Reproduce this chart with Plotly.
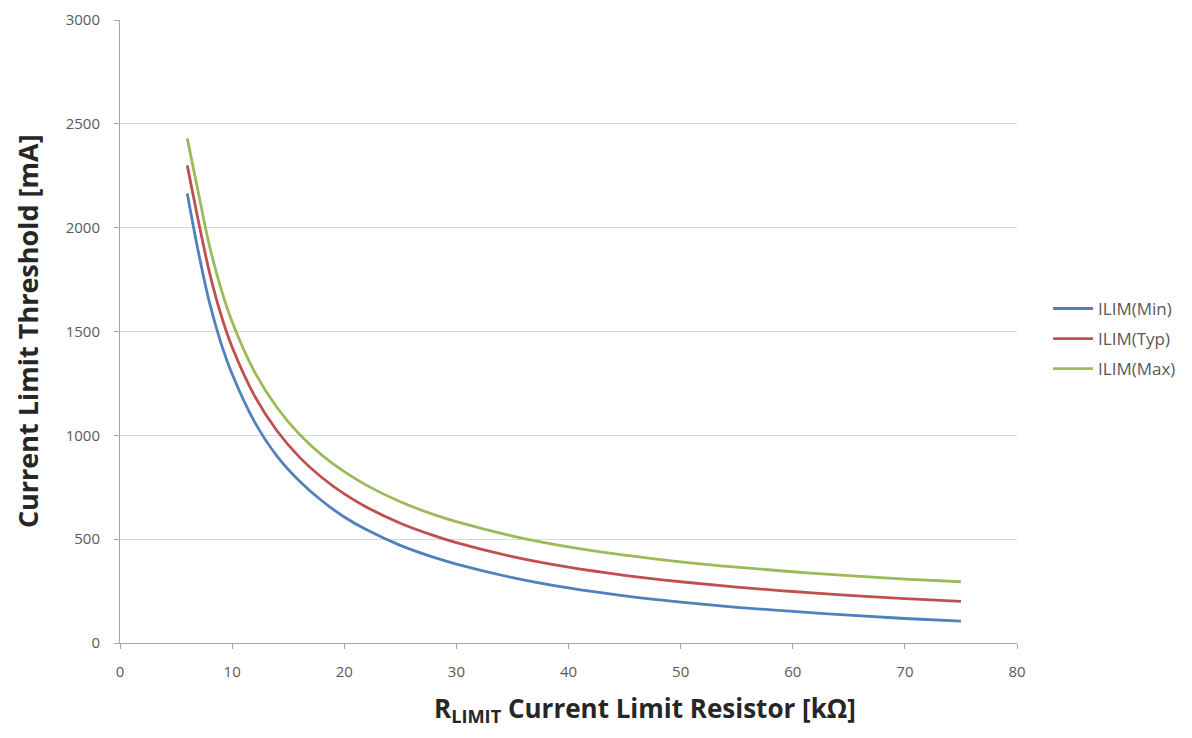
import plotly.graph_objects as go

# R_LIMIT values [kOhm] and read-off current limit thresholds [mA]
r_limit = [6, 7, 8, 9, 10, 12, 14, 16, 18, 20, 22, 25, 28, 30, 35, 40, 45, 50, 55, 60, 65, 70, 75]
ilim_min = [2165, 1880, 1635, 1445, 1295, 1065, 900, 780, 685, 607, 545, 470, 412, 380, 315,
            265, 227, 197, 172, 152, 134, 118, 105]
ilim_typ = [2300, 2030, 1780, 1582, 1425, 1190, 1022, 895, 797, 718, 654, 577, 517, 483, 416,
            365, 326, 295, 269, 248, 229, 214, 200]
ilim_max = [2430, 2165, 1908, 1708, 1547, 1306, 1134, 1005, 905, 825, 759, 680, 618, 584, 515,
            463, 423, 391, 365, 343, 324, 308, 295]

series = [
    ("ILIM(Min)", ilim_min, "#4F81BD"),
    ("ILIM(Typ)", ilim_typ, "#C0504D"),
    ("ILIM(Max)", ilim_max, "#9BBB59"),
]

FONT = "Open Sans"
TICK_GREY = "#595959"
TITLE_GREY = "#262626"

fig = go.Figure()
for name, vals, color in series:
    fig.add_trace(go.Scatter(
        x=r_limit, y=vals, name=name, mode="lines",
        line=dict(color=color, width=2.8, shape="spline"),
        legendgroup=name,
    ))

# page body has an 8px margin, so the figure is 16px smaller than the window
fig.update_layout(
    width=1176, height=722,
    plot_bgcolor="white", paper_bgcolor="white",
    margin=dict(l=112, r=167, t=12, b=87, autoexpand=False),
    font=dict(family=FONT, size=15, color=TICK_GREY),
    showlegend=True,
    legend=dict(
        xref="container", yref="container",
        x=0.8844, y=0.5416, xanchor="left", yanchor="middle",
        font=dict(size=17, color=TICK_GREY),
        tracegroupgap=5, itemwidth=40,
        bgcolor="rgba(0,0,0,0)",
    ),
    xaxis=dict(
        range=[0, 80], dtick=10, tick0=0,
        showgrid=False, zeroline=False, automargin=False,
        showline=True, linecolor="#A6A6A6", linewidth=1,
        ticks="outside", ticklen=5, tickcolor="#A6A6A6",
        tickfont=dict(size=15, color=TICK_GREY),
        ticklabelstandoff=10,
    ),
    yaxis=dict(
        range=[0, 3000], dtick=500, tick0=0,
        showgrid=True, gridcolor="#D9D9D9", gridwidth=1,
        zeroline=False, automargin=False,
        showline=True, linecolor="#A6A6A6", linewidth=1,
        ticks="outside", ticklen=5, tickcolor="#A6A6A6",
        tickfont=dict(size=15, color=TICK_GREY),
        ticklabelstandoff=11,
    ),
    annotations=[
        dict(
            text="R<sub>LIMIT</sub> Current Limit Resistor [kΩ]",
            xref="paper", yref="paper", x=0.585, y=-0.106,
            xanchor="center", yanchor="middle", showarrow=False,
            font=dict(family=FONT, size=26, color=TITLE_GREY, weight="bold"),
        ),
        dict(
            text="Current Limit Threshold [mA]",
            xref="paper", yref="paper", x=-0.103, y=0.5,
            xanchor="center", yanchor="middle", showarrow=False, textangle=-90,
            font=dict(family=FONT, size=27, color=TITLE_GREY, weight="bold"),
        ),
    ],
)

fig.write_html("out.html")
